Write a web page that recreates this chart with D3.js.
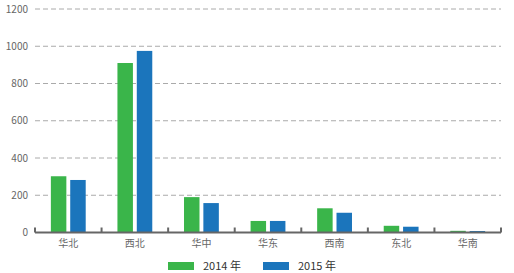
<!DOCTYPE html>
<html>
<head>
<meta charset="utf-8">
<script src="https://cdn.jsdelivr.net/npm/d3@7"></script>
<style>
  body { margin: 0; background: #fff; }
  text { font-family: "Noto Sans CJK SC", "Open Sans", sans-serif; }
</style>
</head>
<body>
<div id="chart"></div>
<script>
// data
var regions = ["华北", "西北", "华中", "华东", "西南", "东北", "华南"];
var series = ["2014 年", "2015 年"];
var values2014 = [302, 910, 190, 62, 130, 36, 9];
var values2015 = [282, 975, 158, 62, 106, 31, 8];
var yTicks = [0, 200, 400, 600, 800, 1000, 1200];

var color = d3.scaleOrdinal()
  .domain(series)
  .range(["#3AB54A", "#1B75BC"]);

var width = 514, height = 273;
var margin = { top: 9, left: 35, right: 13, bottom: 40 };

var svg = d3.select("#chart")
  .append("svg")
  .attr("width", width)
  .attr("height", height);

var x = d3.scaleBand()
  .domain(regions)
  .range([margin.left, width - margin.right]);

var inner = d3.scaleBand()
  .domain(series)
  .range([0, x.bandwidth()])
  .paddingInner(0.2)
  .paddingOuter(0.82);

var y = d3.scaleLinear()
  .domain([0, 1200])
  .range([height - margin.bottom - 0.5, margin.top]);

// dashed grid lines
svg.append("g")
  .selectAll("line")
  .data(yTicks.filter(d => d > 0))
  .enter()
  .append("line")
  .attr("x1", margin.left)
  .attr("x2", width - margin.right)
  .attr("y1", d => y(d))
  .attr("y2", d => y(d))
  .attr("stroke", "#aaa")
  .attr("stroke-width", 1)
  .attr("stroke-dasharray", "5,3");

// y labels
svg.append("g")
  .selectAll("text")
  .data(yTicks)
  .enter()
  .append("text")
  .attr("x", margin.left - 7)
  .attr("y", d => y(d))
  .attr("dy", "0.35em")
  .attr("text-anchor", "end")
  .attr("font-size", "10px")
  .attr("fill", "#666")
  .text(d => d);

// bars
var data = regions.map((r, i) => ({ region: r, vals: [values2014[i], values2015[i]] }));

var groups = svg.append("g")
  .selectAll("g")
  .data(data)
  .enter()
  .append("g")
  .attr("transform", d => "translate(" + x(d.region) + ",0)");

groups.selectAll("rect")
  .data(d => d.vals.map((v, j) => ({ key: series[j], value: v })))
  .enter()
  .append("rect")
  .attr("x", d => inner(d.key))
  .attr("width", inner.bandwidth())
  .attr("y", d => y(d.value))
  .attr("height", d => y(0) - y(d.value))
  .attr("fill", d => color(d.key));

// x axis with inward ticks
var xAxis = svg.append("g")
  .attr("transform", "translate(0," + y(0) + ")");

xAxis.append("line")
  .attr("x1", margin.left)
  .attr("x2", width - margin.right)
  .attr("stroke", "#666")
  .attr("stroke-width", 2);

xAxis.selectAll(".tk")
  .data(regions.map(r => x(r)).concat([x.range()[1]]))
  .enter()
  .append("line")
  .attr("class", "tk")
  .attr("x1", d => d)
  .attr("x2", d => d)
  .attr("y1", 0)
  .attr("y2", -5)
  .attr("stroke", "#666")
  .attr("stroke-width", 2);

xAxis.selectAll("text")
  .data(regions)
  .enter()
  .append("text")
  .attr("x", d => x(d) + x.bandwidth() / 2)
  .attr("y", 14)
  .attr("text-anchor", "middle")
  .attr("font-size", "10px")
  .attr("fill", "#666")
  .text(d => d);

// legend
var legend = svg.append("g")
  .selectAll("g")
  .data(series)
  .enter()
  .append("g")
  .attr("transform", (d, i) => "translate(" + (168 + i * 95) + ",262)");

legend.append("rect")
  .attr("width", 26)
  .attr("height", 8)
  .attr("fill", d => color(d));

legend.append("text")
  .attr("x", 35)
  .attr("y", 4)
  .attr("dy", "0.35em")
  .attr("font-size", "11px")
  .attr("fill", "#333")
  .text(d => d);
</script>
</body>
</html>
